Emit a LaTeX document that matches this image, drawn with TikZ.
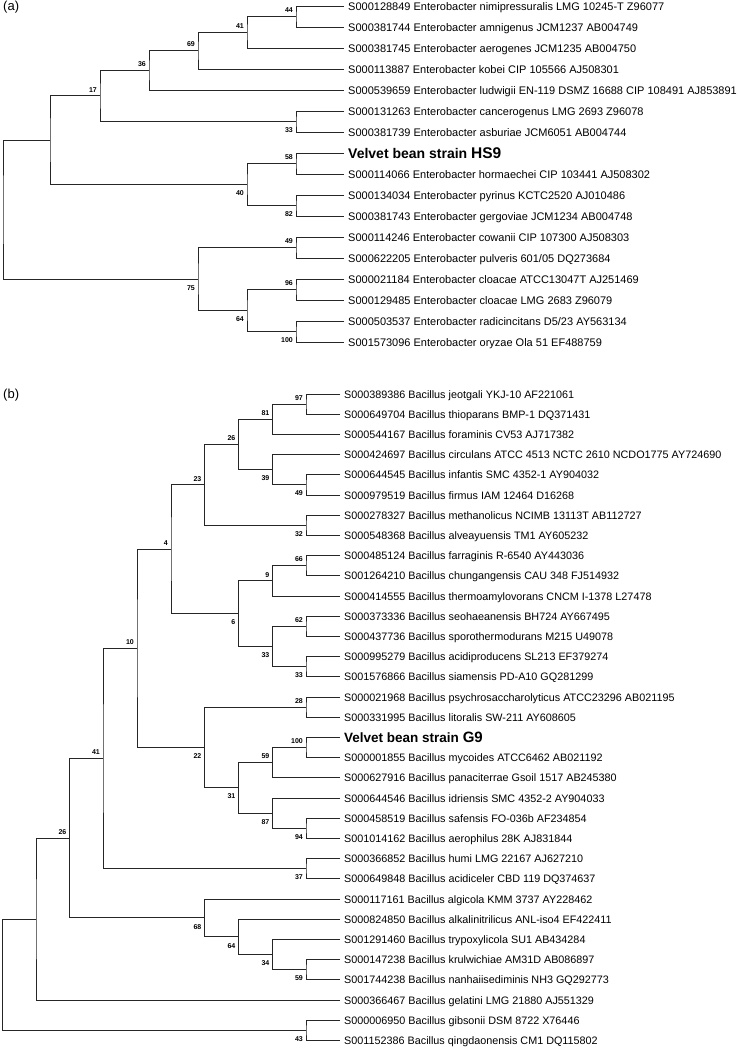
\documentclass[tikz,border=0pt]{standalone}
\usepackage{fontspec}
\setmainfont{Liberation Sans}
\usetikzlibrary{positioning}

\begin{document}
\begin{tikzpicture}[x=1pt, y=-1pt,
    br/.style={draw=black!85, line width=1pt},
    leaf/.style={anchor=base west, inner sep=0pt, xshift=4pt, yshift=-4pt, font=\fontsize{11}{13}\selectfont},
    leafb/.style={leaf, font=\fontsize{10.8}{13}\selectfont},
    strain/.style={anchor=base west, inner sep=0pt, xshift=4pt, yshift=-5pt, font=\fontsize{14}{16}\selectfont\bfseries},
    bsup/.style={anchor=south east, inner sep=0pt, xshift=-3pt, yshift=3.5pt, font=\fontsize{7}{8}\selectfont\bfseries},
    bsdn/.style={anchor=north east, inner sep=0pt, xshift=-3pt, yshift=-6pt, font=\fontsize{7}{8}\selectfont\bfseries},
    panel/.style={anchor=west, inner sep=0pt, font=\fontsize{13}{15}\selectfont}
]
\useasboundingbox (0,0) rectangle (737,1050);
\fill[white] (0,0) rectangle (737,1050);

% ---- (a) Enterobacter ----
\node[panel] (pa) at (3,7) {(a)};

\coordinate (a1) at (344,6);
\coordinate (a2) at (344,27);
\coordinate (a3) at (344,48);
\coordinate (a4) at (344,69);
\coordinate (a5) at (344,90);
\coordinate (a6) at (344,111);
\coordinate (a7) at (344,132);
\coordinate (a8) at (344,153);
\coordinate (a9) at (344,174);
\coordinate (a10) at (344,195);
\coordinate (a11) at (344,216);
\coordinate (a12) at (344,237);
\coordinate (a13) at (344,258);
\coordinate (a14) at (344,279);
\coordinate (a15) at (344,300);
\coordinate (a16) at (344,321);
\coordinate (a17) at (344,342);

\node[leaf] (la1) at (a1) {S000128849 Enterobacter nimipressuralis LMG 10245-T Z96077};
\node[leaf] (la2) at (a2) {S000381744 Enterobacter amnigenus JCM1237 AB004749};
\node[leaf] (la3) at (a3) {S000381745 Enterobacter aerogenes JCM1235 AB004750};
\node[leaf] (la4) at (a4) {S000113887 Enterobacter kobei CIP 105566 AJ508301};
\node[leaf] (la5) at (a5) {S000539659 Enterobacter ludwigii EN-119 DSMZ 16688 CIP 108491 AJ853891};
\node[leaf] (la6) at (a6) {S000131263 Enterobacter cancerogenus LMG 2693 Z96078};
\node[leaf] (la7) at (a7) {S000381739 Enterobacter asburiae JCM6051 AB004744};
\node[strain] (la8) at (a8) {Velvet bean strain {\fontsize{15.5}{17}\selectfont HS9}};
\node[leaf] (la9) at (a9) {S000114066 Enterobacter hormaechei CIP 103441 AJ508302};
\node[leaf] (la10) at (a10) {S000134034 Enterobacter pyrinus KCTC2520 AJ010486};
\node[leaf] (la11) at (a11) {S000381743 Enterobacter gergoviae JCM1234 AB004748};
\node[leaf] (la12) at (a12) {S000114246 Enterobacter cowanii CIP 107300 AJ508303};
\node[leaf] (la13) at (a13) {S000622205 Enterobacter pulveris 601/05 DQ273684};
\node[leaf] (la14) at (a14) {S000021184 Enterobacter cloacae ATCC13047T AJ251469};
\node[leaf] (la15) at (a15) {S000129485 Enterobacter cloacae LMG 2683 Z96079};
\node[leaf] (la16) at (a16) {S000503537 Enterobacter radicincitans D5/23 AY563134};
\node[leaf] (la17) at (a17) {S001573096 Enterobacter oryzae Ola 51 EF488759};

\coordinate (na44) at (296,16.5);
\coordinate (na41) at (247,32.3);
\coordinate (na69) at (198,50.6);
\coordinate (na36) at (149,70.3);
\coordinate (na33) at (296,121.5);
\coordinate (na17) at (100,95.9);
\coordinate (na58) at (296,163.5);
\coordinate (na82) at (296,205.5);
\coordinate (na40) at (247,184.5);
\coordinate (naA) at (50,140.2);
\coordinate (na49) at (296,247.5);
\coordinate (na96) at (296,289.5);
\coordinate (na100) at (296,331.5);
\coordinate (na64) at (247,310.5);
\coordinate (na75) at (198,279);
\coordinate (naR) at (3,209.6);

\draw[br] (a1) -| (na44) |- (a2);
\draw[br] (na44) -| (na41) |- (a3);
\draw[br] (na41) -| (na69) |- (a4);
\draw[br] (na69) -| (na36) |- (a5);
\draw[br] (a6) -| (na33) |- (a7);
\draw[br] (na36) -| (na17) |- (na33);
\draw[br] (a8) -| (na58) |- (a9);
\draw[br] (a10) -| (na82) |- (a11);
\draw[br] (na58) -| (na40) |- (na82);
\draw[br] (na17) -| (naA) |- (na40);
\draw[br] (a12) -| (na49) |- (a13);
\draw[br] (a14) -| (na96) |- (a15);
\draw[br] (a16) -| (na100) |- (a17);
\draw[br] (na96) -| (na64) |- (na100);
\draw[br] (na49) -| (na75) |- (na64);
\draw[br] (naA) -| (naR) |- (na75);

\node[bsup] (ba44) at (na44) {44};
\node[bsup] (ba41) at (na41) {41};
\node[bsup] (ba69) at (na69) {69};
\node[bsup] (ba36) at (na36) {36};
\node[bsup] (ba17) at (na17) {17};
\node[bsdn] (ba33) at (na33) {33};
\node[bsup] (ba58) at (na58) {58};
\node[bsdn] (ba82) at (na82) {82};
\node[bsdn] (ba40) at (na40) {40};
\node[bsdn] (ba75) at (na75) {75};
\node[bsup] (ba49) at (na49) {49};
\node[bsdn] (ba64) at (na64) {64};
\node[bsup] (ba96) at (na96) {96};
\node[bsdn] (ba100) at (na100) {100};

% ---- (b) Bacillus ----
\node[panel] (pb) at (3,395) {(b)};

\coordinate (b1) at (340,394.0);
\coordinate (b2) at (340,414.2);
\coordinate (b3) at (340,434.4);
\coordinate (b4) at (340,454.6);
\coordinate (b5) at (340,474.8);
\coordinate (b6) at (340,495.0);
\coordinate (b7) at (340,515.2);
\coordinate (b8) at (340,535.4);
\coordinate (b9) at (340,555.6);
\coordinate (b10) at (340,575.8);
\coordinate (b11) at (340,596.0);
\coordinate (b12) at (340,616.2);
\coordinate (b13) at (340,636.4);
\coordinate (b14) at (340,656.6);
\coordinate (b15) at (340,676.8);
\coordinate (b16) at (340,697.0);
\coordinate (b17) at (340,717.2);
\coordinate (b18) at (340,737.4);
\coordinate (b19) at (340,757.6);
\coordinate (b20) at (340,777.8);
\coordinate (b21) at (340,798.0);
\coordinate (b22) at (340,818.2);
\coordinate (b23) at (340,838.4);
\coordinate (b24) at (340,858.6);
\coordinate (b25) at (340,878.8);
\coordinate (b26) at (340,899.0);
\coordinate (b27) at (340,919.2);
\coordinate (b28) at (340,939.4);
\coordinate (b29) at (340,959.6);
\coordinate (b30) at (340,979.8);
\coordinate (b31) at (340,1000.0);
\coordinate (b32) at (340,1020.2);
\coordinate (b33) at (340,1040.4);

\node[leafb] (lb1) at (b1) {S000389386 Bacillus jeotgali YKJ-10 AF221061};
\node[leafb] (lb2) at (b2) {S000649704 Bacillus thioparans BMP-1 DQ371431};
\node[leafb] (lb3) at (b3) {S000544167 Bacillus foraminis CV53 AJ717382};
\node[leafb] (lb4) at (b4) {S000424697 Bacillus circulans ATCC 4513 NCTC 2610 NCDO1775 AY724690};
\node[leafb] (lb5) at (b5) {S000644545 Bacillus infantis SMC 4352-1 AY904032};
\node[leafb] (lb6) at (b6) {S000979519 Bacillus firmus IAM 12464 D16268};
\node[leafb] (lb7) at (b7) {S000278327 Bacillus methanolicus NCIMB 13113T AB112727};
\node[leafb] (lb8) at (b8) {S000548368 Bacillus alveayuensis TM1 AY605232};
\node[leafb] (lb9) at (b9) {S000485124 Bacillus farraginis R-6540 AY443036};
\node[leafb] (lb10) at (b10) {S001264210 Bacillus chungangensis CAU 348 FJ514932};
\node[leafb] (lb11) at (b11) {S000414555 Bacillus thermoamylovorans CNCM I-1378 L27478};
\node[leafb] (lb12) at (b12) {S000373336 Bacillus seohaeanensis BH724 AY667495};
\node[leafb] (lb13) at (b13) {S000437736 Bacillus sporothermodurans M215 U49078};
\node[leafb] (lb14) at (b14) {S000995279 Bacillus acidiproducens SL213 EF379274};
\node[leafb] (lb15) at (b15) {S001576866 Bacillus siamensis PD-A10 GQ281299};
\node[leafb] (lb16) at (b16) {S000021968 Bacillus psychrosaccharolyticus ATCC23296 AB021195};
\node[leafb] (lb17) at (b17) {S000331995 Bacillus litoralis SW-211 AY608605};
\node[strain, font=\fontsize{13.5}{16}\selectfont\bfseries] (lb18) at (b18) {Velvet bean strain {\fontsize{15}{17}\selectfont G9}};
\node[leafb] (lb19) at (b19) {S000001855 Bacillus mycoides ATCC6462 AB021192};
\node[leafb] (lb20) at (b20) {S000627916 Bacillus panaciterrae Gsoil 1517 AB245380};
\node[leafb] (lb21) at (b21) {S000644546 Bacillus idriensis SMC 4352-2 AY904033};
\node[leafb] (lb22) at (b22) {S000458519 Bacillus safensis FO-036b AF234854};
\node[leafb] (lb23) at (b23) {S001014162 Bacillus aerophilus 28K AJ831844};
\node[leafb] (lb24) at (b24) {S000366852 Bacillus humi LMG 22167 AJ627210};
\node[leafb] (lb25) at (b25) {S000649848 Bacillus acidiceler CBD 119 DQ374637};
\node[leafb] (lb26) at (b26) {S000117161 Bacillus algicola KMM 3737 AY228462};
\node[leafb] (lb27) at (b27) {S000824850 Bacillus alkalinitrilicus ANL-iso4 EF422411};
\node[leafb] (lb28) at (b28) {S001291460 Bacillus trypoxylicola SU1 AB434284};
\node[leafb] (lb29) at (b29) {S000147238 Bacillus krulwichiae AM31D AB086897};
\node[leafb] (lb30) at (b30) {S001744238 Bacillus nanhaiisediminis NH3 GQ292773};
\node[leafb] (lb31) at (b31) {S000366467 Bacillus gelatini LMG 21880 AJ551329};
\node[leafb] (lb32) at (b32) {S000006950 Bacillus gibsonii DSM 8722 X76446};
\node[leafb] (lb33) at (b33) {S001152386 Bacillus qingdaonensis CM1 DQ115802};

\coordinate (nb97) at (306,404.1);
\coordinate (nb81) at (272.5,419.25);
\coordinate (nb49) at (306,484.9);
\coordinate (nb39) at (272.5,469.75);
\coordinate (nb26) at (238.5,444.5);
\coordinate (nb32) at (306,525.3);
\coordinate (nb23) at (204.5,484.9);
\coordinate (nb66) at (306,565.7);
\coordinate (nb9) at (272.5,580.85);
\coordinate (nb62) at (306,626.3);
\coordinate (nb33a) at (306,666.7);
\coordinate (nb33b) at (272.5,646.5);
\coordinate (nb6) at (238.5,613.7);
\coordinate (nb4) at (171,549.3);
\coordinate (nb28) at (306,707.1);
\coordinate (nb100) at (306,747.5);
\coordinate (nb59) at (272.5,762.65);
\coordinate (nb94) at (306,828.3);
\coordinate (nb87) at (272.5,813.15);
\coordinate (nb31) at (238.5,787.9);
\coordinate (nb22) at (204.5,747.5);
\coordinate (nb10) at (137,648.4);
\coordinate (nb37) at (306,868.7);
\coordinate (nb41) at (103,758.55);
\coordinate (nb59b) at (306,969.7);
\coordinate (nb34) at (272.5,954.55);
\coordinate (nb64) at (238.5,936.9);
\coordinate (nb68) at (204.5,917.95);
\coordinate (nb26b) at (69.5,838.25);
\coordinate (nbB) at (36,919.1);
\coordinate (nb43) at (306,1030.3);
\coordinate (nbR) at (2.5,974.7);

\draw[br] (b1) -| (nb97) |- (b2);
\draw[br] (nb97) -| (nb81) |- (b3);
\draw[br] (b5) -| (nb49) |- (b6);
\draw[br] (b4) -| (nb39) |- (nb49);
\draw[br] (nb81) -| (nb26) |- (nb39);
\draw[br] (b7) -| (nb32) |- (b8);
\draw[br] (nb26) -| (nb23) |- (nb32);
\draw[br] (b9) -| (nb66) |- (b10);
\draw[br] (nb66) -| (nb9) |- (b11);
\draw[br] (b12) -| (nb62) |- (b13);
\draw[br] (b14) -| (nb33a) |- (b15);
\draw[br] (nb62) -| (nb33b) |- (nb33a);
\draw[br] (nb9) -| (nb6) |- (nb33b);
\draw[br] (nb23) -| (nb4) |- (nb6);
\draw[br] (b16) -| (nb28) |- (b17);
\draw[br] (b18) -| (nb100) |- (b19);
\draw[br] (nb100) -| (nb59) |- (b20);
\draw[br] (b22) -| (nb94) |- (b23);
\draw[br] (b21) -| (nb87) |- (nb94);
\draw[br] (nb59) -| (nb31) |- (nb87);
\draw[br] (nb28) -| (nb22) |- (nb31);
\draw[br] (nb4) -| (nb10) |- (nb22);
\draw[br] (b24) -| (nb37) |- (b25);
\draw[br] (nb10) -| (nb41) |- (nb37);
\draw[br] (b29) -| (nb59b) |- (b30);
\draw[br] (b28) -| (nb34) |- (nb59b);
\draw[br] (b27) -| (nb64) |- (nb34);
\draw[br] (b26) -| (nb68) |- (nb64);
\draw[br] (nb41) -| (nb26b) |- (nb68);
\draw[br] (nb26b) -| (nbB) |- (b31);
\draw[br] (b32) -| (nb43) |- (b33);
\draw[br] (nbB) -| (nbR) |- (nb43);

\node[bsup] (bb97) at (nb97) {97};
\node[bsup] (bb81) at (nb81) {81};
\node[bsdn] (bb49) at (nb49) {49};
\node[bsdn] (bb39) at (nb39) {39};
\node[bsup] (bb26) at (nb26) {26};
\node[bsdn] (bb32) at (nb32) {32};
\node[bsup] (bb23) at (nb23) {23};
\node[bsup] (bb66) at (nb66) {66};
\node[bsup] (bb9) at (nb9) {9};
\node[bsup] (bb62) at (nb62) {62};
\node[bsdn] (bb33a) at (nb33a) {33};
\node[bsdn] (bb33b) at (nb33b) {33};
\node[bsdn] (bb6) at (nb6) {6};
\node[bsup] (bb4) at (nb4) {4};
\node[bsup] (bb28) at (nb28) {28};
\node[bsup] (bb100) at (nb100) {100};
\node[bsup] (bb59) at (nb59) {59};
\node[bsdn] (bb94) at (nb94) {94};
\node[bsdn] (bb87) at (nb87) {87};
\node[bsdn] (bb31) at (nb31) {31};
\node[bsdn] (bb22) at (nb22) {22};
\node[bsup] (bb10) at (nb10) {10};
\node[bsdn] (bb37) at (nb37) {37};
\node[bsup] (bb41) at (nb41) {41};
\node[bsdn] (bb59b) at (nb59b) {59};
\node[bsdn] (bb34) at (nb34) {34};
\node[bsdn] (bb64) at (nb64) {64};
\node[bsdn] (bb68) at (nb68) {68};
\node[bsup] (bb26b) at (nb26b) {26};
\node[bsdn] (bb43) at (nb43) {43};
\end{tikzpicture}
\end{document}
